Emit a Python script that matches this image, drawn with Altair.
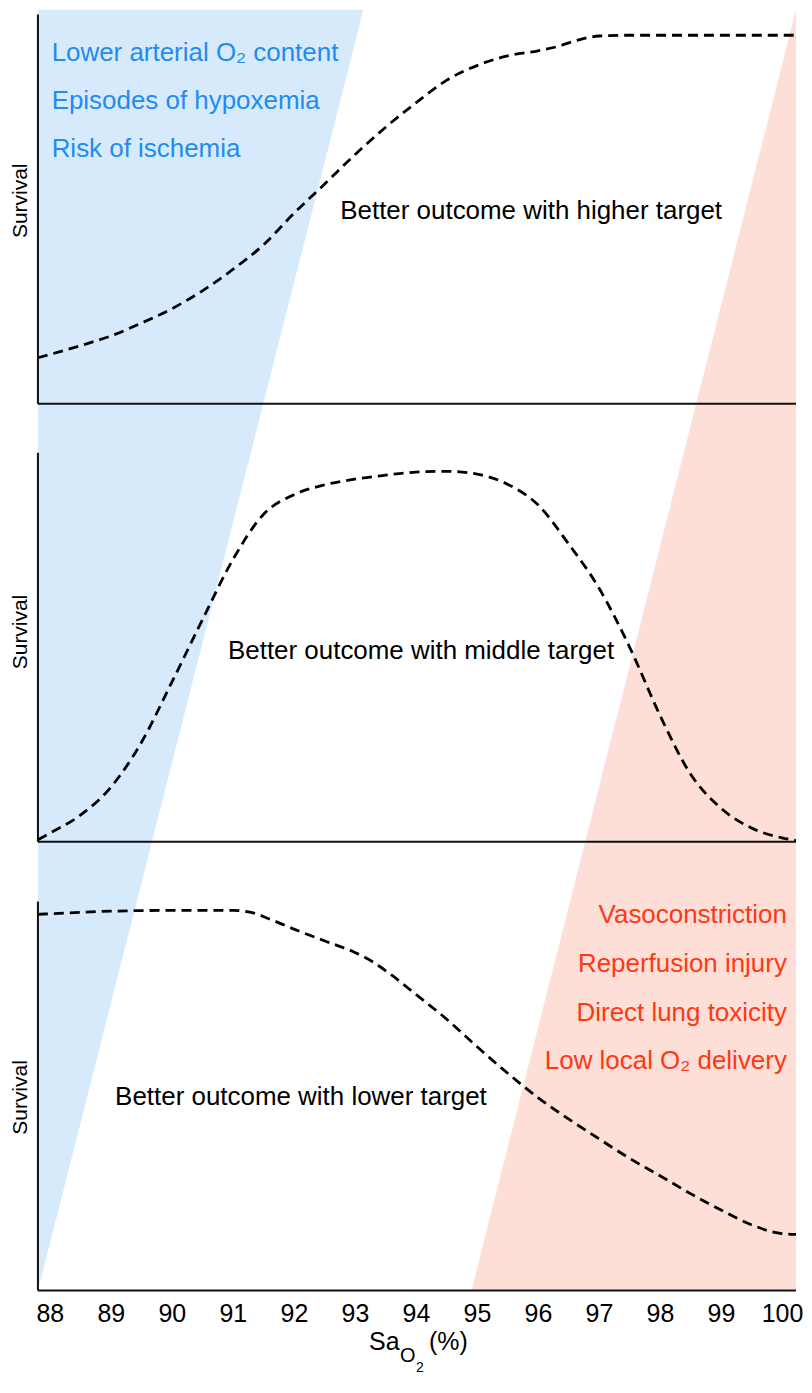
import altair as alt
import pandas as pd

# ---------------- data ----------------
X_MIN, X_MAX = 87.805, 100.23
TICKS = list(range(88, 101))

# Panel 1: better outcome with higher target
p1_x = [87.805, 88.5, 89, 89.5, 90, 90.5, 91, 91.5, 92, 92.5, 93, 93.5, 94, 94.5,
        95, 95.5, 96, 96.3, 96.6, 97, 97.5, 100.23]
p1_s = [0.118, 0.149, 0.174, 0.207, 0.244, 0.290, 0.345, 0.408, 0.489, 0.564, 0.640,
        0.710, 0.773, 0.831, 0.869, 0.894, 0.907, 0.917, 0.932, 0.945, 0.947, 0.947]

# Panel 2: better outcome with middle target
p2_x = [87.805, 88, 88.5, 89, 89.5, 90, 90.5, 91, 91.5, 92, 92.5, 93, 93.5, 94, 94.5,
        95, 95.5, 96, 96.5, 97, 97.5, 98, 98.5, 99, 99.5, 100, 100.23]
p2_s = [0.005, 0.022, 0.068, 0.140, 0.255, 0.410, 0.570, 0.725, 0.841, 0.892, 0.917,
        0.932, 0.942, 0.950, 0.952, 0.945, 0.919, 0.866, 0.766, 0.652, 0.501, 0.325,
        0.174, 0.086, 0.035, 0.010, 0.003]

# Panel 3: better outcome with lower target
p3_x = [87.805, 88.5, 89, 90, 91, 91.3, 91.6, 92, 92.5, 93, 93.3, 93.6, 94, 94.5, 95,
        95.5, 96, 96.5, 97, 97.5, 98, 98.5, 99, 99.5, 100, 100.23]
p3_s = [0.967, 0.972, 0.975, 0.977, 0.977, 0.972, 0.955, 0.929, 0.899, 0.869, 0.844,
        0.811, 0.761, 0.698, 0.627, 0.559, 0.496, 0.441, 0.390, 0.340, 0.295, 0.249,
        0.207, 0.169, 0.146, 0.144]

panel_names = ["higher", "middle", "lower"]
panel_texts = ["Better outcome with higher target",
               "Better outcome with middle target",
               "Better outcome with lower target"]

blue_texts = ["Lower arterial O\u2082 content", "Episodes of hypoxemia", "Risk of ischemia"]
red_texts = ["Vasoconstriction", "Reperfusion injury", "Direct lung toxicity",
             "Low local O\u2082 delivery"]

# risk bands (x at bottom and top of the figure)
blue_band_x_bottom = [87.805, 87.805]
blue_band_x_top = [87.805, 93.14]
red_band_x_bottom = [94.91, 100.23]
red_band_x_top = [100.23, 100.23]

# ---------------- layout (vertical units, from the bottom) ----------------
TOTAL_H = 1307
PANEL_H = 397
panel_base = {"higher": 905, "middle": 458, "lower": 0}

BLUE = "#1E8CF0"
RED = "#FF3814"
BLUE_BG = "#D7EAFC"
RED_BG = "#FDDFD8"
FONT = "Liberation Sans"
W, H = 760, 1284
ANN_FS = 26

xs = alt.Scale(domain=[X_MIN, X_MAX], nice=False, zero=False)
ys = alt.Scale(domain=[0, TOTAL_H], nice=False, zero=False)

# bands
bands = pd.DataFrame({
    "band": ["blue", "blue", "red", "red"],
    "y": [0, TOTAL_H, 0, TOTAL_H],
    "x1": [blue_band_x_bottom[0], blue_band_x_top[0], red_band_x_bottom[0], red_band_x_top[0]],
    "x2": [blue_band_x_bottom[1], blue_band_x_top[1], red_band_x_bottom[1], red_band_x_top[1]],
})
band_layer = alt.Chart(bands).mark_area(orient="horizontal", opacity=1).encode(
    y=alt.Y("y:Q", scale=ys, axis=None),
    x=alt.X("x1:Q", scale=xs, axis=alt.Axis(
        values=TICKS, title=None, domain=False, ticks=False, grid=False,
        labelFontSize=25, labelFont=FONT, labelColor="#000",
        labelBaseline="alphabetic", labelPadding=31, labelFlush=False, format="d")),
    x2="x2:Q",
    color=alt.Color("band:N", scale=alt.Scale(domain=["blue", "red"], range=[BLUE_BG, RED_BG]),
                    legend=None),
    detail="band:N",
)

# curves
rows = []
for name, xv, sv in [("higher", p1_x, p1_s), ("middle", p2_x, p2_s), ("lower", p3_x, p3_s)]:
    for a, b in zip(xv, sv):
        rows.append({"panel": name, "x": a, "s": b, "y": panel_base[name] + b * PANEL_H})
curves = pd.DataFrame(rows)
curve_layer = alt.Chart(curves).mark_line(
    color="#000", strokeWidth=2.8, strokeDash=[10, 6], interpolate="monotone", clip=True
).encode(
    x=alt.X("x:Q", scale=xs),
    y=alt.Y("y:Q", scale=ys),
    detail="panel:N",
)

# panel axes
axes_df = pd.DataFrame({
    "panel": panel_names,
    "base": [panel_base[p] for p in panel_names],
    "top": [panel_base[p] + PANEL_H for p in panel_names],
    "xmin": [X_MIN] * 3,
    "xmax": [X_MAX] * 3,
})
hrule = alt.Chart(axes_df).mark_rule(color="#111", strokeWidth=2).encode(
    x=alt.X("xmin:Q", scale=xs), x2="xmax:Q", y=alt.Y("base:Q", scale=ys))
vrule = alt.Chart(axes_df).mark_rule(color="#111", strokeWidth=2).encode(
    x=alt.X("xmin:Q", scale=xs), y=alt.Y("base:Q", scale=ys), y2="top:Q")

# survival labels
surv_df = pd.DataFrame({"panel": panel_names, "y": [1112, 672, 197], "t": ["Survival"] * 3})
surv_layer = alt.Chart(surv_df).mark_text(
    angle=270, align="center", baseline="alphabetic", fontSize=21, font=FONT, color="#000"
).encode(x=alt.value(-11), y=alt.Y("y:Q", scale=ys), text="t:N")

# annotations
ann = pd.DataFrame({
    "x": [88.03, 88.03, 88.03, 92.76, 90.92, 89.07, 100.08, 100.08, 100.08, 100.08],
    "y": [1255, 1206, 1157, 1093, 644, 189, 375, 325, 275, 226],
    "t": blue_texts + panel_texts + red_texts,
    "kind": ["blue"] * 3 + ["black"] * 3 + ["red"] * 4,
})
left_ann = alt.Chart(ann[ann.kind != "red"]).mark_text(
    align="left", baseline="alphabetic", fontSize=ANN_FS, font=FONT
).encode(
    x=alt.X("x:Q", scale=xs), y=alt.Y("y:Q", scale=ys), text="t:N",
    color=alt.Color("kind:N", scale=alt.Scale(domain=["blue", "black", "red"],
                                              range=[BLUE, "#000", RED]), legend=None),
)
right_ann = alt.Chart(ann[ann.kind == "red"]).mark_text(
    align="right", baseline="alphabetic", fontSize=ANN_FS, font=FONT, color=RED
).encode(x=alt.X("x:Q", scale=xs), y=alt.Y("y:Q", scale=ys), text="t:N")

# x-axis title: Sa with subscript O2
title_parts = pd.DataFrame({
    "t": ["Sa", "O", "2", "(%)"],
    "px": [332, 363, 379, 392],
    "py": [H + 60, H + 72, H + 82, H + 60],
    "fs": [25, 20, 14, 25],
})
title_layers = []
for _, r in title_parts.iterrows():
    title_layers.append(
        alt.Chart(pd.DataFrame({"t": [r.t]})).mark_text(
            align="left", baseline="alphabetic", fontSize=int(r.fs), font=FONT, color="#000"
        ).encode(x=alt.value(int(r.px)), y=alt.value(int(r.py)), text="t:N")
    )

chart = alt.layer(
    band_layer, hrule, vrule, curve_layer, surv_layer, left_ann, right_ann, *title_layers
).resolve_scale(color="independent").properties(
    width=W, height=H,
    autosize=alt.AutoSizeParams(type="none"),
    padding={"left": 30, "top": 0, "right": 8, "bottom": 86},
    background="white",
).configure_view(stroke=None)

chart.save("out.html", embed_options={"renderer": "svg", "actions": False})
